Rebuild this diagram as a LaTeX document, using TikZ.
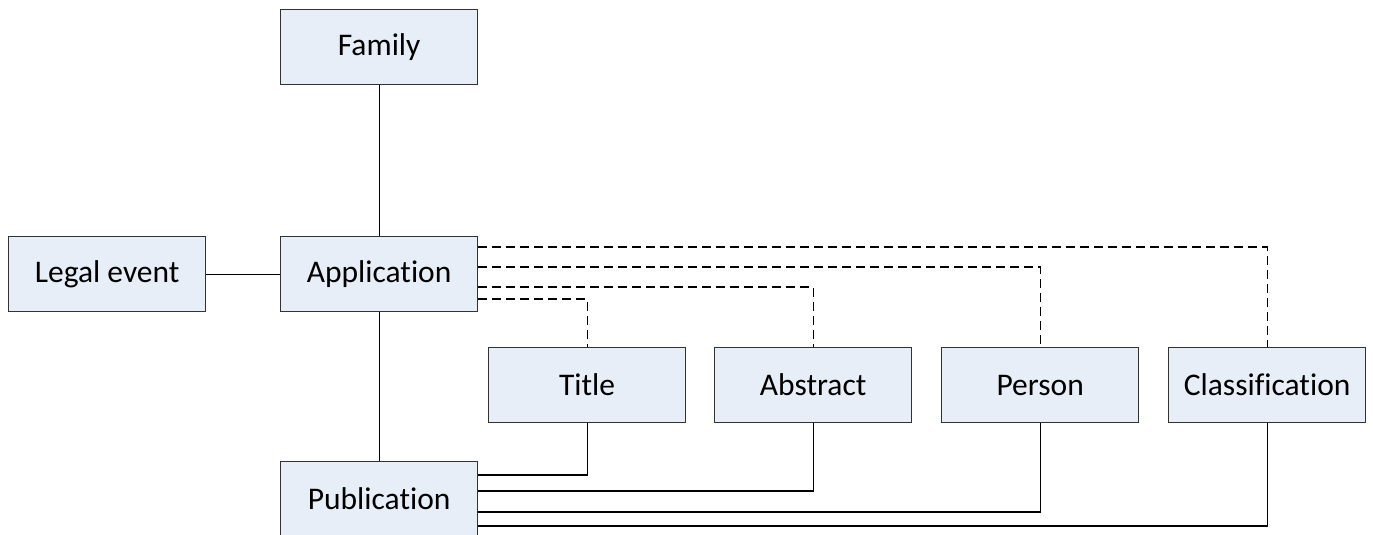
\documentclass[tikz,border=0pt]{standalone}
\usepackage{fontspec}
\setmainfont[Ligatures=NoCommon]{Carlito}
\definecolor{boxfill}{RGB}{232,238,248}
\definecolor{boxline}{RGB}{50,50,50}
\begin{document}
\begin{tikzpicture}[x=1pt,y=-1pt,
  entity/.style={draw=boxline, line width=1.3pt, fill=boxfill, minimum width=197pt, minimum height=75pt, inner sep=0pt, font=\fontsize{31.5}{36}\selectfont, anchor=north west},
  link/.style={draw=black, line width=1.1pt},
  opt/.style={draw=black, line width=1.1pt, dash pattern=on 9pt off 5pt}]
\useasboundingbox (0,0) rectangle (1373,535);
\fill[white] (0,0) rectangle (1373,535);
\node[entity] (fam) at (280,9) {Family};
\node[entity] (leg) at (8,236) {Legal event};
\node[entity] (app) at (280,236) {Application};
\node[entity] (pub) at (280,461) {Publication};
\node[entity] (tit) at (488,347) {Title};
\node[entity] (abs) at (714,347) {Abstract};
\node[entity] (per) at (941,347) {Person};
\node[entity] (cla) at (1168,347) {Classification};
% solid connectors
\draw[link] (fam.south) -- (app.north);
\draw[link] (app.south) -- (pub.north);
\draw[link] (leg.east) -- (app.west);
% dashed from application
\draw[opt] (app.north east |- 0,247) -| (cla.north);
\draw[opt] (app.north east |- 0,267) -| (per.north);
\draw[opt] (app.north east |- 0,287) -| (abs.north);
\draw[opt] (app.north east |- 0,299) -| (tit.north);
% solid from publication
\draw[link] (pub.north east |- 0,475) -| (tit.south);
\draw[link] (pub.north east |- 0,491) -| (abs.south);
\draw[link] (pub.north east |- 0,512) -| (per.south);
\draw[link] (pub.north east |- 0,526) -| (cla.south);
\end{tikzpicture}
\end{document}
